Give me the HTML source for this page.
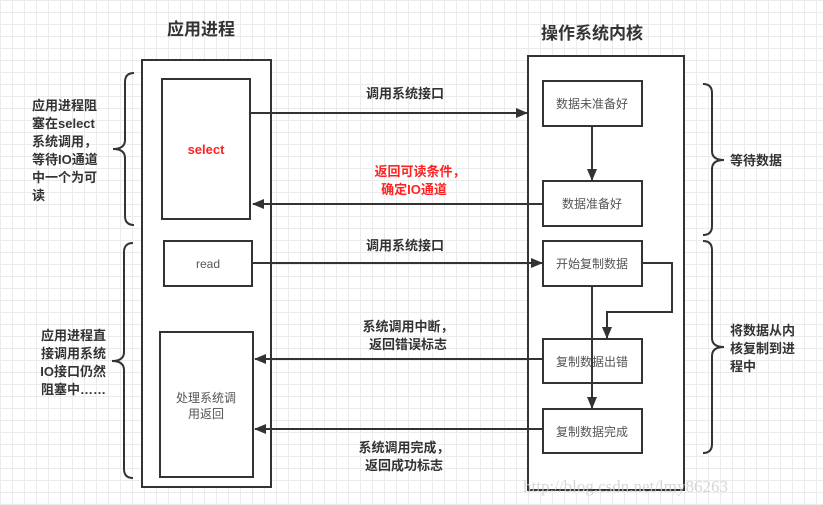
<!DOCTYPE html>
<html><head><meta charset="utf-8"><style>
body{margin:0;width:823px;height:505px;overflow:hidden;background:#fff;
background-image:linear-gradient(#ebebeb 1px,transparent 1px),linear-gradient(90deg,#ebebeb 1px,transparent 1px);background-size:12px 12px;
font-family:"Liberation Sans","Noto Sans CJK SC",sans-serif;}
</style></head><body>
<svg width="823" height="505" xmlns="http://www.w3.org/2000/svg" style="position:absolute;left:0;top:0">
<defs><marker id="a" markerWidth="12" markerHeight="10" refX="11" refY="5" orient="auto" markerUnits="userSpaceOnUse"><path d="M0,0 L12,5 L0,10 z" fill="#333"/></marker></defs>
<g stroke="#333" stroke-width="2" fill="#fff">
<rect x="142" y="60" width="129" height="427"/>
<rect x="528" y="56" width="156" height="434"/>
<rect x="162" y="79" width="88" height="140"/>
<rect x="164" y="241" width="88" height="45"/>
<rect x="160" y="332" width="93" height="145"/>
<rect x="543" y="81" width="99" height="45"/>
<rect x="543" y="181" width="99" height="45"/>
<rect x="543" y="241" width="99" height="45"/>
<rect x="543" y="339" width="99" height="44"/>
<rect x="543" y="409" width="99" height="44"/>
</g>
<g stroke="#333" stroke-width="2" fill="none">
<line x1="250" y1="113" x2="527" y2="113" marker-end="url(#a)"/>
<line x1="543" y1="204" x2="253" y2="204" marker-end="url(#a)"/>
<line x1="252" y1="263" x2="542" y2="263" marker-end="url(#a)"/>
<line x1="543" y1="359" x2="255" y2="359" marker-end="url(#a)"/>
<line x1="543" y1="429" x2="255" y2="429" marker-end="url(#a)"/>
<line x1="592" y1="126" x2="592" y2="180" marker-end="url(#a)"/>
<line x1="592" y1="286" x2="592" y2="408" marker-end="url(#a)"/>
<polyline points="642,263 672,263 672,312 607,312 607,338" marker-end="url(#a)"/>
<path d="M134,73 Q125,73 125,82 L125,140 Q125,149 113,149 Q125,149 125,158 L125,216 Q125,225 134,225"/>
<path d="M133,243 Q124,243 124,252 L124,352 Q124,361 112,361 Q124,361 124,370 L124,469 Q124,478 133,478"/>
<path d="M703,84 Q712,84 712,93 L712,151 Q712,160 724,160 Q712,160 712,169 L712,226 Q712,235 703,235"/>
<path d="M703,241 Q712,241 712,250 L712,338 Q712,347 724,347 Q712,347 712,356 L712,444 Q712,453 703,453"/>
</g>
<g font-family="Liberation Sans, Noto Sans CJK SC, sans-serif" fill="#333">
<g font-size="17" font-weight="bold" text-anchor="middle"><text x="201" y="35">应用进程</text><text x="592" y="39">操作系统内核</text></g>
<g font-size="13" font-weight="bold">
<text x="32" y="110">应用进程阻</text><text x="32" y="128">塞在select</text><text x="32" y="146">系统调用，</text><text x="32" y="164">等待IO通道</text><text x="32" y="182">中一个为可</text><text x="32" y="200">读</text>
<g text-anchor="end"><text x="106" y="340">应用进程直</text><text x="106" y="358">接调用系统</text><text x="106" y="376">IO接口仍然</text><text x="106" y="394">阻塞中……</text></g>
<text x="730" y="165">等待数据</text>
<text x="730" y="335">将数据从内</text><text x="730" y="353">核复制到进</text><text x="730" y="371">程中</text>
<g text-anchor="middle"><text x="405" y="98">调用系统接口</text><text x="405" y="250">调用系统接口</text>
<text x="408" y="331">系统调用中断，</text><text x="408" y="349">返回错误标志</text>
<text x="404" y="452">系统调用完成，</text><text x="404" y="470">返回成功标志</text>
<g fill="#f22"><text x="420" y="176">返回可读条件，</text><text x="414" y="194">确定IO通道</text><text x="206" y="154">select</text></g></g>
</g>
<g font-size="12" text-anchor="middle" fill="#555"><text x="208" y="268">read</text>
<text x="206" y="402">处理系统调</text><text x="206" y="418">用返回</text>
<text x="592" y="108">数据未准备好</text><text x="592" y="208">数据准备好</text><text x="592" y="268">开始复制数据</text><text x="592" y="366">复制数据出错</text><text x="592" y="436">复制数据完成</text></g>
<text x="523" y="492" font-family="Liberation Serif, serif" font-size="17" fill="#ccc" opacity="0.8">http://blog.csdn.net/lmy86263</text>
</g>
</svg>
</body></html>
